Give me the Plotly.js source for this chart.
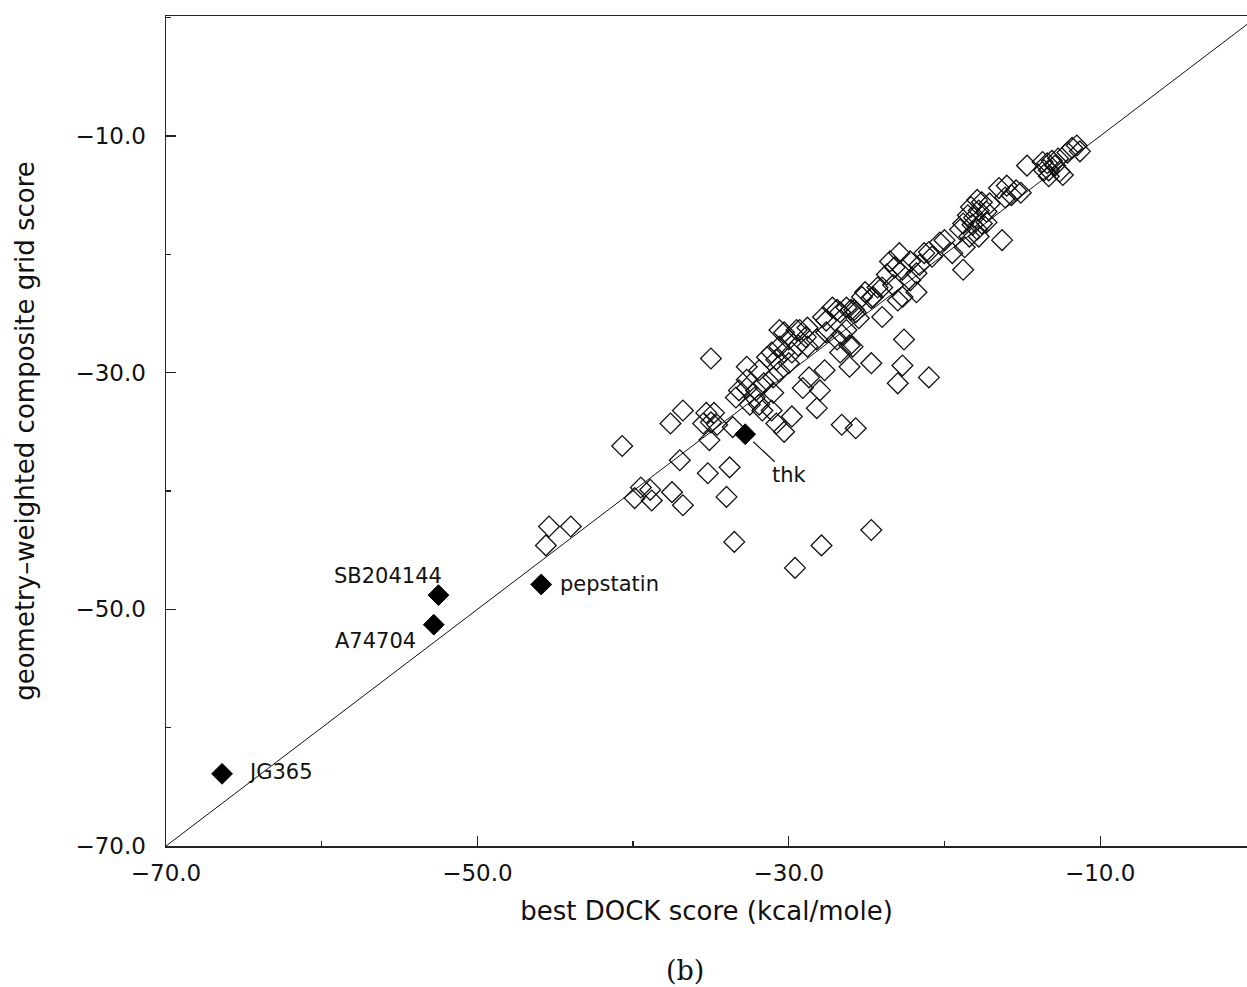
<!DOCTYPE html>
<html>
<head>
<meta charset="utf-8">
<script src="https://cdn.plot.ly/plotly-3.0.1.min.js"></script>
<style>
html,body{margin:0;padding:0;background:#fff;overflow:hidden;}
#chart{width:1247px;height:987px;}
</style>
</head>
<body>
<div id="chart"></div>
<script>
// open diamonds: best DOCK score (x) vs geometry-weighted composite grid score (y)
const dockScore = [
  -11.5,-11.3,-12.1,-11.8,-12.7,-13.1,-13.4,-12.9,-13.3,-12.6,-12.4,-13.6,-14.7,-13.3,-13.7,
  -16.5,-16.0,-15.4,-15.1,-15.7,-16.1,-17.9,-17.6,-17.1,-17.8,-17.3,-18.3,-18.5,-18.8,-18.2,
  -17.6,-17.3,-17.9,-18.4,-17.8,-16.3,-19.0,-18.7,-20.0,-19.5,-18.1,
  -20.3,-21.0,-20.8,-21.3,-18.8,-22.9,-22.2,-23.5,-23.2,-22.7,-21.8,-22.2,-21.8,-22.7,-23.0,
  -24.3,-25.1,-24.6,-25.3,-26.3,-25.8,-24.0,-25.5,-26.3,-26.6,-22.6,-26.1,-23.3,-24.0,-21.6,-23.7,
  -24.7,-26.0,-26.7,-27.2,-27.8,-28.8,-29.3,-30.3,-30.0,-29.4,-30.6,-31.1,-31.4,-30.8,-30.3,
  -29.8,-28.8,-28.2,-27.6,-26.9,-26.7,-26.1,-25.9,-24.7,-27.7,-28.7,-29.1,-28.0,-28.2,-30.6,
  -31.0,-31.6,-32.7,-32.7,-32.1,-31.0,-31.9,-31.1,-29.8,-30.8,-30.3,-26.6,-25.7,-22.7,-23.0,
  -21.0,-27.6,-26.9,-25.7,-29.5,-30.6,-28.9,-30.0,-31.9,
  -35.0,-40.7,-37.6,-36.8,-35.3,-34.8,-35.5,-35.0,-34.6,-33.6,-35.1,-37.0,-35.2,-33.8,-34.0,
  -39.5,-38.9,-39.9,-38.8,-37.5,-36.8,-33.2,-33.4,-32.7,-32.2,-31.7,-32.5,
  -33.5,-27.9,-24.7,-29.6,-45.4,-44.0,-45.6
];
const gridScore = [
  -10.8,-11.3,-11.4,-11.0,-11.9,-12.1,-12.3,-12.5,-12.9,-13.0,-13.3,-12.9,-12.5,-13.4,-12.2,
  -14.4,-14.2,-14.6,-14.8,-15.0,-15.2,-15.4,-15.6,-15.7,-16.3,-16.4,-16.0,-16.7,-17.4,-17.5,
  -17.4,-17.3,-17.9,-18.5,-18.5,-18.8,-17.9,-19.4,-18.8,-19.9,-16.9,
  -19.0,-19.8,-20.2,-19.9,-21.3,-19.9,-20.6,-20.6,-21.1,-21.3,-21.6,-22.2,-23.2,-23.6,-23.9,
  -22.8,-23.2,-23.6,-23.6,-24.5,-24.7,-25.3,-25.4,-26.4,-26.8,-27.2,-27.7,-22.6,-22.8,-20.9,-21.7,
  -23.7,-24.7,-24.9,-24.5,-25.3,-26.2,-26.4,-26.6,-27.2,-27.7,-27.8,-28.3,-28.7,-28.9,-28.3,
  -28.3,-27.8,-27.2,-26.6,-27.2,-28.3,-29.5,-27.8,-29.2,-29.8,-30.4,-31.3,-31.5,-33.0,-29.9,
  -30.4,-30.9,-29.5,-30.6,-31.5,-31.7,-32.7,-33.2,-33.7,-34.3,-35.0,-34.4,-34.7,-29.4,-30.9,
  -30.4,-25.6,-24.7,-24.9,-26.4,-26.4,-27.0,-29.2,-29.8,
  -28.8,-36.2,-34.3,-33.2,-33.4,-33.4,-34.3,-34.2,-34.4,-34.6,-35.7,-37.4,-38.5,-38.0,-40.5,
  -39.7,-39.9,-40.6,-40.8,-40.1,-41.2,-31.5,-32.1,-31.3,-32.1,-33.2,-32.7,
  -44.3,-44.6,-43.3,-46.5,-43.0,-43.0,-44.6
];

// labelled compounds (filled diamonds)
const labelNames = ["thk", "pepstatin", "SB204144", "A74704", "JG365"];
const labelDock  = [-32.8, -45.9, -52.5, -52.8, -66.4];
const labelGrid  = [-35.2, -47.9, -48.8, -51.3, -63.9];

// identity line y = x
const diagX = [-70, 0];
const diagY = [-70, 0];

const xTickVals = [-70, -50, -30, -10];
const yTickVals = [-70, -50, -30, -10];

const axisColor = '#222';
const font = 'DejaVu Sans, Liberation Sans, Arial, sans-serif';

const traces = [
  {x: diagX, y: diagY, mode: 'lines', type: 'scatter',
   line: {color: '#111', width: 1}, hoverinfo: 'skip', showlegend: false},
  {x: dockScore, y: gridScore, mode: 'markers', type: 'scatter', name: 'ligands',
   marker: {symbol: 'diamond-open', size: 16, color: '#111', line: {color: '#111', width: 1.3}},
   showlegend: false},
  {x: labelDock, y: labelGrid, mode: 'markers', type: 'scatter', name: 'inhibitors',
   text: labelNames,
   marker: {symbol: 'diamond', size: 16, color: '#000', line: {color: '#000', width: 1}},
   showlegend: false}
];

// label placement (pixel offsets from each point)
const labelStyle = {
  "thk":      {xanchor: 'center', xshift: 0,  yshift: 0, arrow: true, ax: 44, ay: 41},
  "pepstatin":{xanchor: 'left',   xshift: 17, yshift: 0},
  "SB204144": {xanchor: 'right',  xshift: 6,  yshift: 19},
  "A74704":   {xanchor: 'right',  xshift: -16, yshift: -16},
  "JG365":    {xanchor: 'left',   xshift: 24, yshift: 2}
};

const annotations = labelNames.map((n, i) => {
  const s = labelStyle[n];
  const a = {
    x: labelDock[i], y: labelGrid[i], xref: 'x', yref: 'y', text: n,
    font: {family: font, size: 21, color: '#111'},
    xanchor: s.xanchor, yanchor: 'middle'
  };
  if (s.arrow) {
    Object.assign(a, {showarrow: true, arrowhead: 0, arrowwidth: 1.2, arrowcolor: '#111',
      ax: s.ax, ay: s.ay, standoff: 11});
  } else {
    Object.assign(a, {showarrow: false, xshift: s.xshift, yshift: s.yshift});
  }
  return a;
});

annotations.push({
  text: '(b)', xref: 'paper', yref: 'paper', x: 0.48, y: -0.1506,
  xanchor: 'center', yanchor: 'middle', showarrow: false,
  font: {family: 'DejaVu Serif, Liberation Serif, serif', size: 27, color: '#111'}
});

const commonAxis = {
  showgrid: false, zeroline: false, showline: true, linecolor: axisColor, linewidth: 1.5,
  ticks: 'inside', ticklen: 10, tickwidth: 1.3, tickcolor: axisColor,
  tickformat: '.1f', tickmode: 'array',
  tickfont: {family: font, size: 23, color: '#111'},
  minor: {ticks: 'inside', ticklen: 5, tickwidth: 1.2, tickcolor: axisColor, dtick: 10, tick0: -70, showgrid: false}
};

const layout = {
  width: 1247, height: 987,
  margin: {l: 166, r: 0, t: 16, b: 141},
  paper_bgcolor: '#fff', plot_bgcolor: '#fff',
  showlegend: false,
  xaxis: Object.assign({}, commonAxis, {
    range: [-70, -0.57], tickvals: xTickVals, mirror: true,
    ticklabelstandoff: 6,
    title: {text: 'best DOCK score (kcal/mole)', font: {family: font, size: 26, color: '#111'}, standoff: 16}
  }),
  yaxis: Object.assign({}, commonAxis, {
    range: [-70, 0.14], tickvals: yTickVals, mirror: false,
    ticklabelstandoff: 14,
    title: {text: 'geometry–weighted composite grid score', font: {family: font, size: 26, color: '#111'}, standoff: 33}
  }),
  annotations: annotations
};

Plotly.newPlot('chart', traces, layout, {displayModeBar: false, staticPlot: true});
</script>
</body>
</html>
